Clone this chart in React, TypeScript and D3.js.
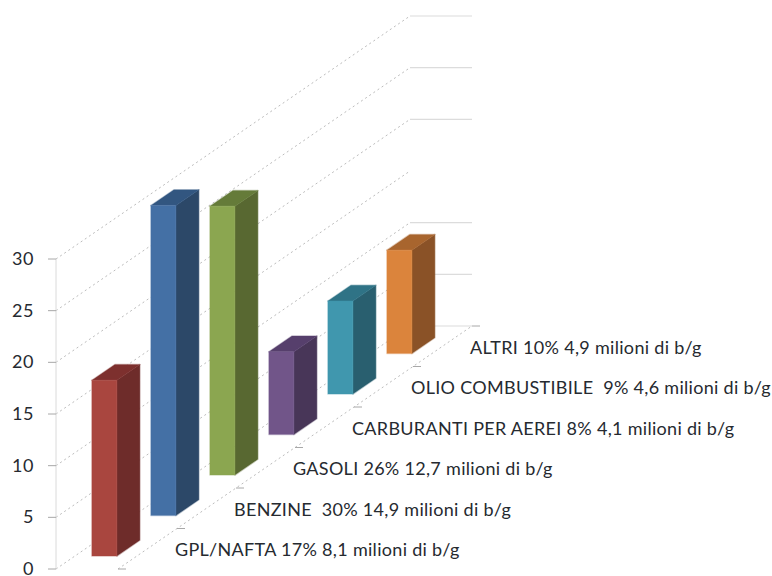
import React from "react";
import * as d3 from "d3";

// Share of world oil consumption by product
const categories = ["GPL/NAFTA", "BENZINE ", "GASOLI", "CARBURANTI PER AEREI", "OLIO COMBUSTIBILE ", "ALTRI"];
const percents = [17, 30, 26, 8, 9, 10];
const barrels = ["8,1", "14,9", "12,7", "4,1", "4,6", "4,9"];
const axisTicks = [0, 5, 10, 15, 20, 25, 30];
const frontColors = ["#A9463F", "#4470A5", "#8BA650", "#715589", "#4097AE", "#DB843C"];
const sideColors = ["#6E2C2A", "#2C4868", "#586831", "#483658", "#295F6F", "#8A5227"];
const topColors = ["#7D302E", "#325680", "#657B39", "#563F6C", "#2F7386", "#A8652E"];

const FONT = "Lato, Carlito, 'Open Sans', sans-serif";
const TEXT = "#262a30";

// Oblique projection: width runs along x, value along y, depth up and to the right.
const originX = 56;
const originY = 569;
const floorWidth = 62;
const backWidth = 62;
const depth = d3.scaleLinear().domain([0, categories.length]).range([0, 1]);
const depthX = 354;
const depthY = -243;
const valueY = d3.scaleLinear().domain([0, 30]).range([0, -310]);

const project = (across: number, slot: number, value: number): [number, number] => [
  originX + across + depth(slot) * depthX,
  originY + depth(slot) * depthY + valueY(value),
];

const poly = (pts: [number, number][]) => d3.line()(pts) + "Z";

const barAcross = 17;
const barWidth = 25;
const slotStart = 0.32;
const slotDepth = 0.39;

function Bar({ i }: { i: number }) {
  const v = percents[i];
  const a0 = barAcross;
  const a1 = barAcross + barWidth;
  const z0 = i + slotStart;
  const z1 = z0 + slotDepth;
  return (
    <g strokeLinejoin="round">
      <path
        d={poly([project(a1, z0, 0), project(a1, z1, 0), project(a1, z1, v), project(a1, z0, v)])}
        fill={sideColors[i]}
        stroke={sideColors[i]}
        strokeOpacity={0.35}
        strokeWidth={1.5}
      />
      <path
        d={poly([project(a0, z0, v), project(a1, z0, v), project(a1, z1, v), project(a0, z1, v)])}
        fill={topColors[i]}
        stroke={topColors[i]}
        strokeOpacity={0.35}
        strokeWidth={1.5}
      />
      <path
        d={poly([project(a0, z0, 0), project(a1, z0, 0), project(a1, z0, v), project(a0, z0, v)])}
        fill={frontColors[i]}
        stroke={frontColors[i]}
        strokeOpacity={0.35}
        strokeWidth={1.5}
      />
    </g>
  );
}

export default function App() {
  const n = categories.length;
  return (
    <svg
      width={772}
      height={576}
      style={{ position: "absolute", left: 0, top: 0, background: "#fff" }}
      fontFamily={FONT}
    >
      {/* Gridlines across the side wall and along the back wall */}
      {axisTicks.map((t) => {
        const [x0, y0] = project(0, 0, t);
        const [x1, y1] = project(0, n, t);
        return (
          <g key={t}>
            <line x1={x0} y1={y0} x2={x1} y2={y1} stroke="#bcbcbc" strokeWidth={1} strokeDasharray="2 3" />
            {t !== 15 && <line x1={x1} y1={y1} x2={x1 + backWidth} y2={y1} stroke="#dcdcdc" strokeWidth={1.2} />}
          </g>
        );
      })}

      {/* Value axis */}
      <line
        x1={originX}
        x2={originX}
        y1={project(0, 0, 0)[1]}
        y2={project(0, 0, 30)[1]}
        stroke="#dadada"
        strokeWidth={1}
      />
      {axisTicks.map((t) => {
        const y = project(0, 0, t)[1];
        return (
          <g key={t}>
            <line x1={originX - 8} x2={originX} y1={y} y2={y} stroke="#a8a8a8" strokeWidth={1} />
            <text x={34} y={y + 6} textAnchor="end" fontSize={18} letterSpacing={0.6} fill={TEXT}>
              {t}
            </text>
          </g>
        );
      })}

      {/* Front edge of the floor with its category ticks */}
      <line
        x1={project(floorWidth, 0, 0)[0]}
        y1={project(floorWidth, 0, 0)[1]}
        x2={project(floorWidth, n, 0)[0]}
        y2={project(floorWidth, n, 0)[1]}
        stroke="#bcbcbc"
        strokeWidth={1}
        strokeDasharray="2 3"
      />
      {d3.range(n + 1).map((i) => {
        const [x, y] = project(floorWidth, i, 0);
        return <line key={i} x1={x} x2={x + 8} y1={y} y2={y} stroke="#a8a8a8" strokeWidth={1} />;
      })}

      {/* Bars */}
      {categories.map((_, i) => (
        <Bar key={i} i={i} />
      ))}

      {/* Category labels */}
      {categories.map((c, i) => {
        const [x, y] = project(floorWidth, i, 0);
        return (
          <text
            key={c}
            x={x + 57}
            y={y - 13}
            fontSize={18}
            letterSpacing={0.3}
            fill={TEXT}
            style={{ whiteSpace: "pre" }}
          >
            {`${c} ${percents[i]}% ${barrels[i]} milioni di b/g`}
          </text>
        );
      })}
    </svg>
  );
}
